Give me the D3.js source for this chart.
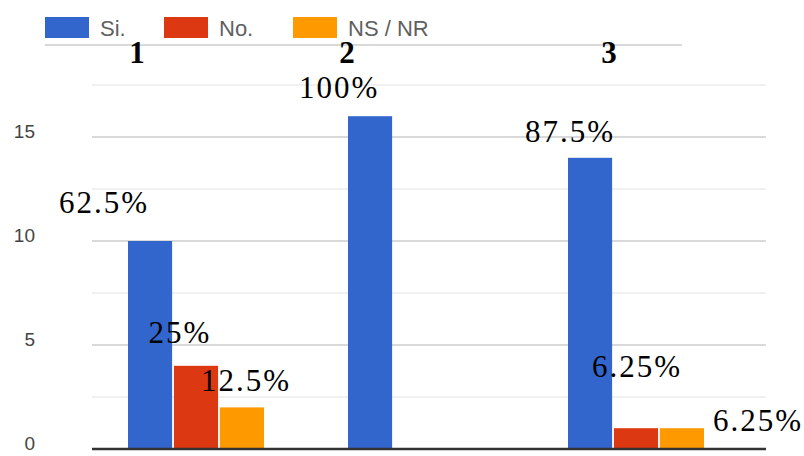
<!DOCTYPE html>
<html>
<head>
<meta charset="utf-8">
<script src="https://cdn.jsdelivr.net/npm/d3@7"></script>
<style>
  body { margin: 0; background: #fff; }
  svg { display: block; }
  .sans { font-family: 'Liberation Sans', Arial, sans-serif; }
  .serif { font-family: 'Liberation Serif', 'Times New Roman', serif; }
</style>
</head>
<body>
<div id="container"></div>
<script>
// data
const categories = ['1', '2', '3'];
const seriesNames = ['Si.', 'No.', 'NS / NR'];
const siValues = [10, 16, 14];
const noValues = [4, 0, 1];
const nsValues = [2, 0, 1];
const siLabels = ['62.5%', '100%', '87.5%'];
const noLabels = ['25%', '', '6.25%'];
const nsLabels = ['12.5%', '', '6.25%'];
const yTicks = [0, 5, 10, 15];
const gridTicks = [0, 2.5, 5, 7.5, 10, 12.5, 15, 17.5];

const colors = ['#3366cc', '#dc3912', '#ff9900'];

const width = 804;
const height = 456;
const plotLeft = 92, plotRight = 766;

const svg = d3.select('#container')
  .append('svg')
  .attr('width', width)
  .attr('height', height);

const y = d3.scaleLinear()
  .domain([0, 15])
  .range([449, 137]);

const x0 = d3.scaleBand()
  .domain(categories)
  .range([86, 746])
  .padding(0);

const x1 = d3.scaleBand()
  .domain(seriesNames)
  .range([42, 178])
  .paddingInner(0.04);

// gridlines
svg.append('g')
  .selectAll('line')
  .data(gridTicks.filter(d => d > 0))
  .join('line')
    .attr('x1', plotLeft)
    .attr('x2', plotRight)
    .attr('y1', d => y(d))
    .attr('y2', d => y(d))
    .attr('stroke', d => d % 5 === 0 ? '#cccccc' : '#ebebeb')
    .attr('stroke-width', 1.5);

// line under legend
svg.append('line')
  .attr('x1', 45).attr('x2', 682)
  .attr('y1', 45).attr('y2', 45)
  .attr('stroke', '#cccccc')
  .attr('stroke-width', 1.5);

// y labels
svg.append('g')
  .selectAll('text')
  .data(yTicks)
  .join('text')
    .attr('class', 'sans')
    .attr('x', 35)
    .attr('y', d => y(d) - 4)
    .attr('text-anchor', 'end')
    .attr('dominant-baseline', 'middle')
    .attr('font-size', 19)
    .attr('fill', '#444')
    .text(d => d);

// bars
const rows = categories.map((c, i) => ({
  cat: c,
  vals: [
    {s: seriesNames[0], v: siValues[i], label: siLabels[i]},
    {s: seriesNames[1], v: noValues[i], label: noLabels[i]},
    {s: seriesNames[2], v: nsValues[i], label: nsLabels[i]}
  ]
}));

const groups = svg.append('g')
  .selectAll('g')
  .data(rows)
  .join('g')
    .attr('transform', d => `translate(${x0(d.cat)},0)`);

groups.selectAll('rect')
  .data(d => d.vals.filter(v => v.v > 0))
  .join('rect')
    .attr('x', d => x1(d.s))
    .attr('y', d => y(d.v))
    .attr('width', x1.bandwidth())
    .attr('height', d => y(0) - y(d.v))
    .attr('fill', d => colors[seriesNames.indexOf(d.s)]);

// baseline
svg.append('line')
  .attr('x1', plotLeft).attr('x2', plotRight)
  .attr('y1', y(0)).attr('y2', y(0))
  .attr('stroke', '#333')
  .attr('stroke-width', 2.5);

// percentage labels (offsets from bar top centre)
const labelOffsets = {
  '1': [[-46, -28], [-16, -23], [4, -16]],
  '2': [[-31, -18], [0, 0], [0, 0]],
  '3': [[-20, -16], [1, -51], [76, 3]]
};

groups.each(function(row) {
  d3.select(this).selectAll('text.pct')
    .data(row.vals.map((v, j) => ({...v, off: labelOffsets[row.cat][j]})).filter(v => v.label))
    .join('text')
      .attr('class', 'pct serif')
      .attr('x', d => x1(d.s) + x1.bandwidth() / 2 + d.off[0])
      .attr('y', d => y(d.v) + d.off[1])
      .attr('text-anchor', 'middle')
      .attr('font-size', 31)
      .attr('letter-spacing', 2)
      .attr('fill', '#000')
      .text(d => d.label);
});

// category titles
const catOffsets = [-59, -69, -27];
svg.append('g')
  .selectAll('text')
  .data(categories)
  .join('text')
    .attr('class', 'serif')
    .attr('x', (d, i) => x0(d) + x0.bandwidth() / 2 + catOffsets[i])
    .attr('y', 63)
    .attr('text-anchor', 'middle')
    .attr('font-weight', 'bold')
    .attr('font-size', 31)
    .attr('fill', '#000')
    .text(d => d);

// legend
const legendX = [45, 164, 293];
const legend = svg.append('g')
  .selectAll('g')
  .data(seriesNames)
  .join('g')
    .attr('transform', (d, i) => `translate(${legendX[i]},17)`);

legend.append('rect')
  .attr('width', 44)
  .attr('height', 21)
  .attr('fill', (d, i) => colors[i]);

legend.append('text')
  .attr('class', 'sans')
  .attr('x', 55)
  .attr('y', 19)
  .attr('font-size', 22)
  .attr('fill', '#5f5f5f')
  .text(d => d);
</script>
</body>
</html>
